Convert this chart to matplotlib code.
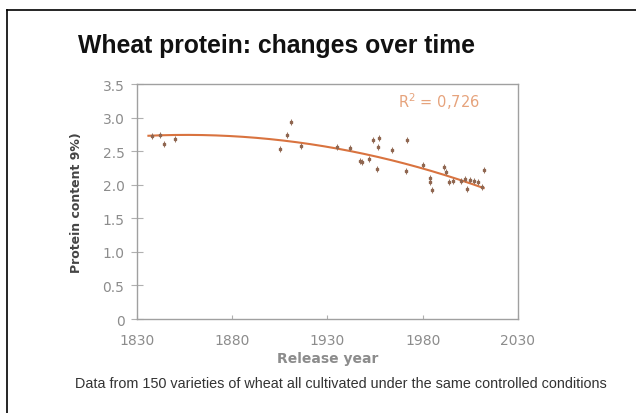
import numpy as np
import matplotlib.pyplot as plt
from matplotlib.lines import Line2D

# Release year and protein content
years = [1838, 1842, 1844, 1850, 1905, 1909, 1911, 1916, 1935, 1942,
         1947, 1948, 1952, 1954, 1956, 1956.5, 1957, 1964, 1971, 1972,
         1980, 1984, 1984, 1985, 1991, 1992, 1994, 1996, 2000, 2002,
         2003, 2005, 2007, 2009, 2011, 2012]
protein = [2.73, 2.74, 2.61, 2.68, 2.53, 2.74, 2.93, 2.58, 2.56, 2.55,
           2.36, 2.34, 2.38, 2.67, 2.24, 2.56, 2.70, 2.52, 2.21, 2.67,
           2.30, 2.10, 2.04, 1.92, 2.26, 2.19, 2.04, 2.06, 2.06, 2.09,
           1.94, 2.07, 2.06, 2.04, 1.97, 2.22]

# trend line
trend_years = [1836, 1860, 1890, 1910, 1930, 1950, 1970, 1990, 2012]
trend_vals = [2.72, 2.74, 2.72, 2.66, 2.57, 2.45, 2.30, 2.13, 1.98]

xticks = [1830, 1880, 1930, 1980, 2030]
yticks = [0, 0.5, 1.0, 1.5, 2.0, 2.5, 3.0, 3.5]
ytick_labels = ['0', '0.5', '1.0', '1.5', '2.0', '2.5', '3.0', '3.5']

fig = plt.figure(figsize=(6.36, 4.14), dpi=100)
ax = fig.add_axes([0.2154, 0.227, 0.599, 0.5676])

grey = '#8c8c8c'
# smooth the read trend with a quadratic
coef = np.polyfit(trend_years, trend_vals, 2)
xs = np.linspace(trend_years[0], trend_years[-1], 200)
ax.plot(xs, np.polyval(coef, xs), color='#d9733f', lw=1.5, zorder=2)

ax.errorbar(years, protein, yerr=0.045, fmt='s', ms=1.6, color='#8f6650',
            ecolor='#9a7460', elinewidth=0.7, capsize=0, zorder=3)

ax.set_xlim(1830, 2030)
ax.set_ylim(0, 3.5)
ax.set_xticks(xticks)
ax.set_yticks(yticks)
ax.set_yticklabels(ytick_labels)
for s in ax.spines.values():
    s.set_color('#a0a0a0')
    s.set_linewidth(1.0)
ax.tick_params(axis='y', direction='inout', length=8, color='#b0b0b0',
               labelcolor=grey, labelsize=10, pad=5)
ax.tick_params(axis='x', direction='in', length=3, color='#b0b0b0',
               labelcolor=grey, labelsize=10, pad=10)
ax.set_xlabel('Release year', color=grey, fontsize=10, fontweight='bold',
              labelpad=3)
ax.set_ylabel('Protein content 9%)', color='#444444', fontsize=9,
              fontweight='bold', labelpad=14)

ax.text(0.9, 0.93, r'R$^2$ = 0,726', transform=ax.transAxes, ha='right',
        va='center', color='#e6a37c', fontsize=10.5)

fig.text(0.434, 0.89, 'Wheat protein: changes over time', ha='center',
         va='center', fontsize=17.8, fontweight='bold', family='Liberation Sans',
         color='#111111')
fig.text(0.536, 0.072, 'Data from 150 varieties of wheat all cultivated under '
         'the same controlled conditions', ha='center', va='center',
         fontsize=10.4, family='Liberation Sans', color='#333333')

# frame around the slide (left and top only)
fig.add_artist(Line2D([7 / 636, 7 / 636], [0, 1 - 11 / 414], color='black',
                      lw=1.2, transform=fig.transFigure))
fig.add_artist(Line2D([7 / 636, 1], [1 - 11 / 414, 1 - 11 / 414],
                      color='black', lw=1.2, transform=fig.transFigure))

plt.savefig('out.png', dpi=100)
